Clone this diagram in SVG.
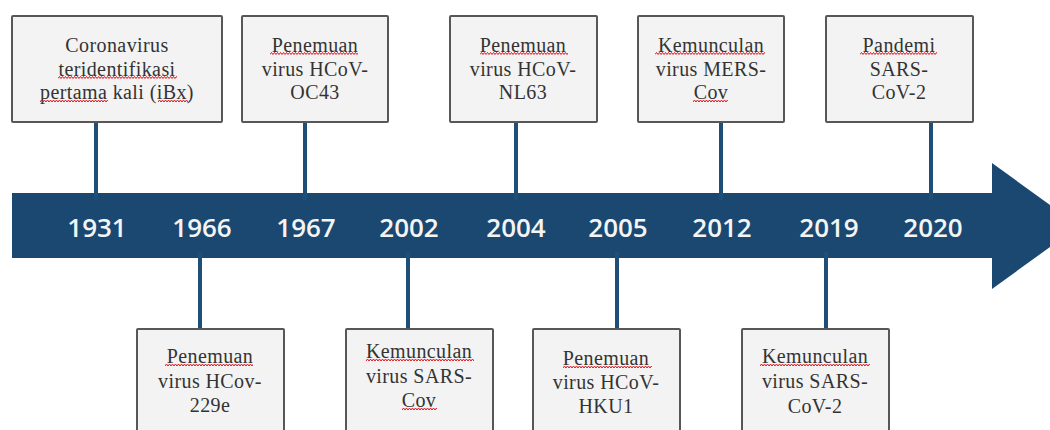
<svg xmlns="http://www.w3.org/2000/svg" xmlns:xlink="http://www.w3.org/1999/xlink" width="1050" height="430" viewBox="0 0 1050 430">
<style>
.box{fill:#f3f3f3;stroke:#575757;stroke-width:2}
.lbl{font-family:"Liberation Serif","Times New Roman",serif;font-size:20px;letter-spacing:0.4px;fill:#333;text-anchor:middle}
.yr{font-family:"Open Sans","Liberation Sans",sans-serif;font-size:26px;font-weight:600;fill:#f4f4f4;text-anchor:middle}
.con{stroke:#1f4e79;stroke-width:4;fill:none}
.wv{fill:none;stroke:#e0141e;stroke-width:1}
</style>
<defs>
<path id="wv" class="wv" d="M0 2.5 l1.5 -2 l1.5 2 l1.5 -2 l1.5 2 l1.5 -2 l1.5 2 l1.5 -2 l1.5 2 l1.5 -2 l1.5 2 l1.5 -2 l1.5 2 l1.5 -2 l1.5 2 l1.5 -2 l1.5 2 l1.5 -2 l1.5 2 l1.5 -2 l1.5 2 l1.5 -2 l1.5 2 l1.5 -2 l1.5 2 l1.5 -2 l1.5 2 l1.5 -2 l1.5 2 l1.5 -2 l1.5 2 l1.5 -2 l1.5 2 l1.5 -2 l1.5 2 l1.5 -2 l1.5 2 l1.5 -2 l1.5 2 l1.5 -2 l1.5 2 l1.5 -2 l1.5 2 l1.5 -2 l1.5 2 l1.5 -2 l1.5 2 l1.5 -2 l1.5 2 l1.5 -2 l1.5 2 l1.5 -2 l1.5 2 l1.5 -2 l1.5 2 l1.5 -2 l1.5 2 l1.5 -2 l1.5 2 l1.5 -2 l1.5 2 l1.5 -2 l1.5 2 l1.5 -2 l1.5 2 l1.5 -2 l1.5 2 l1.5 -2 l1.5 2 l1.5 -2 l1.5 2 l1.5 -2 l1.5 2 l1.5 -2 l1.5 2 l1.5 -2 l1.5 2 l1.5 -2 l1.5 2 l1.5 -2 l1.5 2 l1.5 -2 l1.5 2 l1.5 -2 l1.5 2"/>
</defs>
<rect width="1050" height="430" fill="#ffffff"/>

<g id="timeline">
<path d="M12 193 H992 V163 L1079 226 L992 289 V258 H12 Z" fill="#1b4870"/>
<text class="yr" x="97" y="237">1931</text>
<text class="yr" x="202" y="237">1966</text>
<text class="yr" x="306" y="237">1967</text>
<text class="yr" x="409" y="237">2002</text>
<text class="yr" x="516" y="237">2004</text>
<text class="yr" x="618" y="237">2005</text>
<text class="yr" x="722" y="237">2012</text>
<text class="yr" x="829" y="237">2019</text>
<text class="yr" x="933" y="237">2020</text>
</g>

<g id="connectors">
<line class="con" x1="96" y1="122" x2="96" y2="200"/>
<line class="con" x1="305" y1="122" x2="305" y2="200"/>
<line class="con" x1="516" y1="122" x2="516" y2="200"/>
<line class="con" x1="721" y1="122" x2="721" y2="200"/>
<line class="con" x1="931" y1="122" x2="931" y2="200"/>
<line class="con" x1="200" y1="252" x2="200" y2="329"/>
<line class="con" x1="408" y1="252" x2="408" y2="329"/>
<line class="con" x1="617" y1="252" x2="617" y2="329"/>
<line class="con" x1="826" y1="252" x2="826" y2="329"/>
</g>

<g id="n1931">
<rect class="box" x="12" y="16" width="210" height="106" rx="1"/>
<text class="lbl" x="117" y="52">Coronavirus</text>
<text class="lbl" x="117" y="75.5">teridentifikasi</text>
<text class="lbl" x="117" y="99">pertama kali (iBx)</text>
<svg x="58" y="76" width="119" height="4" overflow="hidden"><use xlink:href="#wv"/></svg>
<svg x="40" y="99.5" width="68" height="4" overflow="hidden"><use xlink:href="#wv"/></svg>
<svg x="158" y="99.5" width="30" height="4" overflow="hidden"><use xlink:href="#wv"/></svg>
</g>

<g id="n1967">
<rect class="box" x="242" y="16" width="146" height="106" rx="1"/>
<text class="lbl" x="315" y="52">Penemuan</text>
<text class="lbl" x="315" y="75.5">virus HCoV-</text>
<text class="lbl" x="315" y="99">OC43</text>
<svg x="270" y="52" width="88" height="4" overflow="hidden"><use xlink:href="#wv"/></svg>
</g>

<g id="n2004">
<rect class="box" x="450" y="16" width="147" height="106" rx="1"/>
<text class="lbl" x="523" y="52">Penemuan</text>
<text class="lbl" x="523" y="75.5">virus HCoV-</text>
<text class="lbl" x="523" y="99">NL63</text>
<svg x="480" y="52" width="88" height="4" overflow="hidden"><use xlink:href="#wv"/></svg>
</g>

<g id="n2012">
<rect class="box" x="638" y="16" width="146" height="106" rx="1"/>
<text class="lbl" x="711" y="52">Kemunculan</text>
<text class="lbl" x="711" y="75.5">virus MERS-</text>
<text class="lbl" x="711" y="99">Cov</text>
<svg x="655" y="52" width="110" height="4" overflow="hidden"><use xlink:href="#wv"/></svg>
<svg x="693" y="99.5" width="35" height="4" overflow="hidden"><use xlink:href="#wv"/></svg>
</g>

<g id="n2020">
<rect class="box" x="826" y="16" width="147" height="106" rx="1"/>
<text class="lbl" x="899" y="52">Pandemi</text>
<text class="lbl" x="899" y="75.5">SARS-</text>
<text class="lbl" x="899" y="99">CoV-2</text>
<svg x="860" y="52" width="77" height="4" overflow="hidden"><use xlink:href="#wv"/></svg>
</g>

<g id="n1966">
<rect class="box" x="137" y="329" width="147" height="120" rx="1"/>
<text class="lbl" x="210" y="363">Penemuan</text>
<text class="lbl" x="210" y="388">virus HCov-</text>
<text class="lbl" x="210" y="412">229e</text>
<svg x="165" y="363.5" width="88" height="4" overflow="hidden"><use xlink:href="#wv"/></svg>
</g>

<g id="n2002">
<rect class="box" x="346" y="329" width="147" height="120" rx="1"/>
<text class="lbl" x="419" y="358">Kemunculan</text>
<text class="lbl" x="419" y="383">virus SARS-</text>
<text class="lbl" x="419" y="407">Cov</text>
<svg x="366" y="358.5" width="108" height="4" overflow="hidden"><use xlink:href="#wv"/></svg>
<svg x="402" y="407.5" width="35" height="4" overflow="hidden"><use xlink:href="#wv"/></svg>
</g>

<g id="n2005">
<rect class="box" x="533" y="329" width="147" height="120" rx="1"/>
<text class="lbl" x="606" y="365">Penemuan</text>
<text class="lbl" x="606" y="389">virus HCoV-</text>
<text class="lbl" x="606" y="413">HKU1</text>
<svg x="563" y="365.5" width="89" height="4" overflow="hidden"><use xlink:href="#wv"/></svg>
</g>

<g id="n2019">
<rect class="box" x="742" y="329" width="147" height="120" rx="1"/>
<text class="lbl" x="815" y="363">Kemunculan</text>
<text class="lbl" x="815" y="388">virus SARS-</text>
<text class="lbl" x="815" y="413">CoV-2</text>
<svg x="760" y="363.5" width="110" height="4" overflow="hidden"><use xlink:href="#wv"/></svg>
</g>
</svg>
